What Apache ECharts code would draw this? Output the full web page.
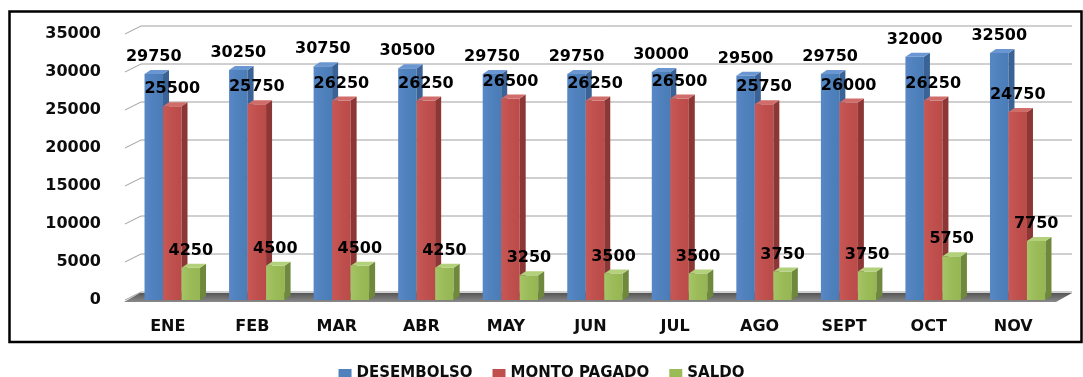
<!DOCTYPE html>
<html>
<head>
<meta charset="utf-8">
<script src="https://cdn.jsdelivr.net/npm/echarts@6/dist/echarts.min.js"></script>
<style>
  html, body { margin: 0; padding: 0; background: #fff; }
  #chart { width: 1083px; height: 377px; }
</style>
</head>
<body>
<div id="chart"></div>
<script>
// Monthly figures
const categories = ['ENE', 'FEB', 'MAR', 'ABR', 'MAY', 'JUN', 'JUL', 'AGO', 'SEPT', 'OCT', 'NOV'];
const desembolso = [29750, 30250, 30750, 30500, 29750, 29750, 30000, 29500, 29750, 32000, 32500];
const montoPagado = [25500, 25750, 26250, 26250, 26500, 26250, 26500, 25750, 26000, 26250, 24750];
const saldo = [4250, 4500, 4500, 4250, 3250, 3500, 3500, 3750, 3750, 5750, 7750];
const yTicks = [0, 5000, 10000, 15000, 20000, 25000, 30000, 35000];

const FONT = '"DejaVu Sans", Verdana, sans-serif';

// Depth of the back wall and of each bar box
const WALL_DX = 16, WALL_DY = -8;
const BAR_DX = 6, BAR_DY = -4;
const BAR_W = 18.5;

const palettes = [
  { name: 'DESEMBOLSO', base: '#4f81bd', light: '#5887c6', dark: '#4a7cb8', top: '#6a97d2', side: '#3a6294' },
  { name: 'MONTO PAGADO', base: '#c0504d', light: '#c85856', dark: '#bb4b48', top: '#d06d6a', side: '#8c3735' },
  { name: 'SALDO', base: '#9bbb59', light: '#a5c566', dark: '#96b654', top: '#b3d07a', side: '#6f893c' }
];
const seriesValues = [desembolso, montoPagado, saldo];

function box3d(k) {
  const p = palettes[k];
  return function (params, api) {
    const i = api.value(0);
    const v = api.value(1);
    const base = api.coord([i, 0]);
    const top = api.coord([i, v]);
    const cx = base[0] + (k - 1) * BAR_W;
    const x0 = cx - BAR_W / 2, x1 = cx + BAR_W / 2;
    const y0 = base[1], y1 = top[1];
    return {
      type: 'group',
      children: [
        {
          type: 'rect',
          shape: { x: x0, y: y1, width: BAR_W, height: y0 - y1 },
          style: {
            fill: new echarts.graphic.LinearGradient(0, 0, 1, 0, [
              { offset: 0, color: p.light },
              { offset: 0.5, color: p.base },
              { offset: 1, color: p.dark }
            ])
          }
        },
        {
          type: 'polygon',
          shape: { points: [[x1, y1], [x1 + BAR_DX, y1 + BAR_DY], [x1 + BAR_DX, y0 + BAR_DY], [x1, y0]] },
          style: { fill: p.side }
        },
        {
          type: 'polygon',
          shape: { points: [[x0, y1], [x0 + BAR_DX, y1 + BAR_DY], [x1 + BAR_DX, y1 + BAR_DY], [x1, y1]] },
          style: { fill: p.top }
        },
        {
          type: 'text',
          z2: 100,
          style: {
            text: String(v),
            x: cx,
            y: y1 - 9,
            align: 'center',
            verticalAlign: 'bottom',
            font: 'bold 16px ' + FONT,
            fill: '#000'
          }
        }
      ]
    };
  };
}

// Back wall grid lines with the slanted left wall segment
function wallLines(params, api) {
  const cs = params.coordSys;
  const y = api.coord([0, api.value(0)])[1];
  const xl = cs.x - 5;
  const xr = cs.x + cs.width - 4;
  return {
    type: 'polyline',
    shape: { points: [[xl, y], [xl + WALL_DX, y + WALL_DY], [xr + WALL_DX, y + WALL_DY]] },
    style: { stroke: '#a0a0a0', lineWidth: 1, fill: null }
  };
}

// Dark floor under the bars
function floor(params, api) {
  const cs = params.coordSys;
  const y = api.coord([0, 0])[1] + 2;
  const xl = cs.x - 6;
  const xr = cs.x + cs.width - 4;
  return {
    type: 'polygon',
    shape: { points: [[xl, y], [xr, y], [xr + WALL_DX, y + WALL_DY - 1], [xl + WALL_DX, y + WALL_DY - 1]] },
    style: {
      fill: new echarts.graphic.LinearGradient(0, 0, 0, 1, [
        { offset: 0, color: '#555555' },
        { offset: 1, color: '#8a8a8a' }
      ])
    }
  };
}

const chart = echarts.init(document.getElementById('chart'), null, { renderer: 'canvas' });

const series = [
  {
    type: 'custom',
    name: 'wall',
    silent: true,
    z: 0,
    data: yTicks.map(v => [v]),
    encode: { y: 0 },
    renderItem: wallLines
  },
  {
    type: 'custom',
    name: 'floor',
    silent: true,
    z: 1,
    data: [[0]],
    encode: { y: 0 },
    renderItem: floor
  }
];
palettes.forEach((p, k) => {
  series.push({
    type: 'custom',
    name: p.name,
    z: 2 + k,
    itemStyle: { color: p.base },
    data: seriesValues[k].map((v, i) => [i, v]),
    encode: { x: 0, y: 1 },
    renderItem: box3d(k)
  });
});

chart.setOption({
  animation: false,
  backgroundColor: '#ffffff',
  grid: { left: 130, right: 23, top: 34, bottom: 77 },
  xAxis: {
    type: 'category',
    data: categories,
    axisLine: { show: false },
    axisTick: { show: false },
    axisLabel: {
      margin: 19,
      padding: [0, 9, 0, 0],
      color: '#0d0d0d',
      fontFamily: FONT,
      fontWeight: 'bold',
      fontSize: 16
    }
  },
  yAxis: {
    type: 'value',
    min: 0,
    max: 35000,
    interval: 5000,
    axisLine: { show: false },
    axisTick: { show: false },
    splitLine: { show: false },
    axisLabel: {
      margin: 29,
      color: '#0d0d0d',
      fontFamily: FONT,
      fontWeight: 'bold',
      fontSize: 16,
      formatter: v => String(v)
    }
  },
  legend: {
    data: palettes.map(p => p.name),
    left: 'center',
    top: 361,
    icon: 'rect',
    itemWidth: 13,
    itemHeight: 9,
    itemGap: 20,
    textStyle: { color: '#0d0d0d', fontFamily: FONT, fontWeight: 'bold', fontSize: 15 }
  },
  graphic: [
    {
      type: 'rect',
      shape: { x: 9.5, y: 11.5, width: 1072, height: 330.5 },
      style: { fill: null, stroke: '#000', lineWidth: 2.5 },
      silent: true,
      z: 10
    }
  ],
  series: series
});
</script>
</body>
</html>
